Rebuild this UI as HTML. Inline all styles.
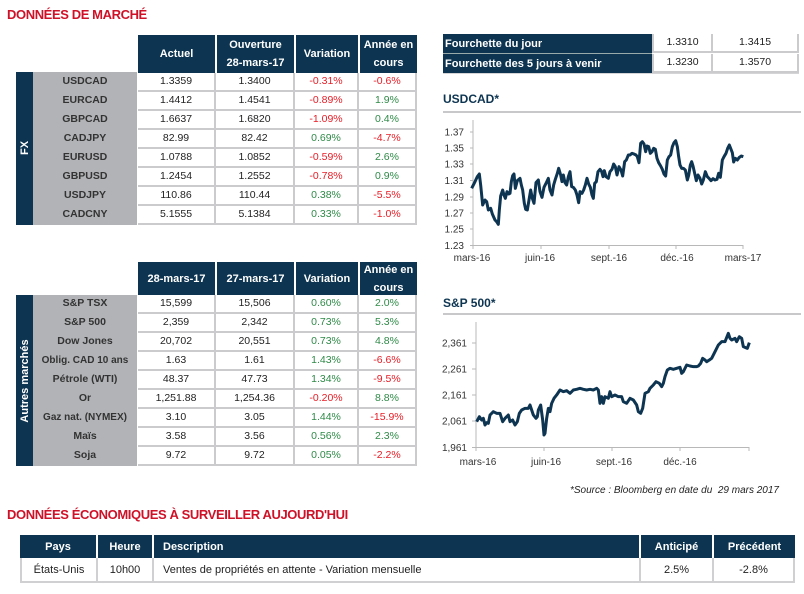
<!DOCTYPE html>
<html><head><meta charset="utf-8">
<style>
*{margin:0;padding:0;box-sizing:border-box}
body{width:804px;height:594px;background:#fff;position:relative;overflow:hidden;font-family:"Liberation Sans",Arial,sans-serif;color:#222}
.a{position:absolute}
.title{position:absolute;left:7px;color:#cf1128;font-weight:bold;font-size:13px;letter-spacing:-0.4px;white-space:nowrap}
.hd{position:absolute;background:#0d3451;color:#fff;font-weight:bold;font-size:11px;display:flex;align-items:center;justify-content:center;text-align:center;line-height:18px}
.row{position:absolute;left:138px;width:279px;height:19px;display:flex}
.row div{height:19px;border-right:2px solid #cbcbce;border-bottom:2px solid #cbcbce;text-align:center;font-size:10.5px;line-height:17px;color:#222}
.c1{width:78px}.c2{width:79px}.c3{width:64px}.c4{width:58px}
.r{color:#e81c25!important}.g{color:#2e8a47!important}
.lab{position:absolute;left:33px;width:104px;height:19px;text-align:center;font-weight:bold;font-size:10.5px;line-height:17px;color:#333;white-space:nowrap}
.side{position:absolute;left:16px;width:17px;background:#0d3451}
.gray{position:absolute;left:33px;width:104px;background:#b1b3b6}
.vt{position:absolute;color:#fff;font-weight:bold;font-size:11px;white-space:nowrap;transform:translate(-50%,-50%) rotate(-90deg)}
</style></head><body>

<div class="title" style="top:7px">DONNÉES DE MARCHÉ</div>

<div class="hd" style="left:138px;top:35px;width:77px;height:38px">Actuel</div>
<div class="hd" style="left:217px;top:35px;width:77px;height:38px">Ouverture<br>28-mars-17</div>
<div class="hd" style="left:296px;top:35px;width:62px;height:38px">Variation</div>
<div class="hd" style="left:360px;top:35px;width:57px;height:38px">Année en<br>cours</div>

<div class="side" style="top:72px;height:153px"></div>
<div class="gray" style="top:72px;height:153px"></div>
<div class="vt" style="left:24.5px;top:148px">FX</div>

<div class="lab" style="top:73px">USDCAD</div>
<div class="lab" style="top:92px">EURCAD</div>
<div class="lab" style="top:111px">GBPCAD</div>
<div class="lab" style="top:130px">CADJPY</div>
<div class="lab" style="top:149px">EURUSD</div>
<div class="lab" style="top:168px">GBPUSD</div>
<div class="lab" style="top:187px">USDJPY</div>
<div class="lab" style="top:206px">CADCNY</div>

<div class="row" style="top:73px"><div class="c1">1.3359</div><div class="c2">1.3400</div><div class="c3 r">-0.31%</div><div class="c4 r">-0.6%</div></div>
<div class="row" style="top:92px"><div class="c1">1.4412</div><div class="c2">1.4541</div><div class="c3 r">-0.89%</div><div class="c4 g">1.9%</div></div>
<div class="row" style="top:111px"><div class="c1">1.6637</div><div class="c2">1.6820</div><div class="c3 r">-1.09%</div><div class="c4 g">0.4%</div></div>
<div class="row" style="top:130px"><div class="c1">82.99</div><div class="c2">82.42</div><div class="c3 g">0.69%</div><div class="c4 r">-4.7%</div></div>
<div class="row" style="top:149px"><div class="c1">1.0788</div><div class="c2">1.0852</div><div class="c3 r">-0.59%</div><div class="c4 g">2.6%</div></div>
<div class="row" style="top:168px"><div class="c1">1.2454</div><div class="c2">1.2552</div><div class="c3 r">-0.78%</div><div class="c4 g">0.9%</div></div>
<div class="row" style="top:187px"><div class="c1">110.86</div><div class="c2">110.44</div><div class="c3 g">0.38%</div><div class="c4 r">-5.5%</div></div>
<div class="row" style="top:206px"><div class="c1">5.1555</div><div class="c2">5.1384</div><div class="c3 g">0.33%</div><div class="c4 r">-1.0%</div></div>

<div class="hd" style="left:138px;top:262px;width:77px;height:33px">28-mars-17</div>
<div class="hd" style="left:217px;top:262px;width:77px;height:33px">27-mars-17</div>
<div class="hd" style="left:296px;top:262px;width:62px;height:33px">Variation</div>
<div class="hd" style="left:360px;top:262px;width:57px;height:33px">Année en<br>cours</div>

<div class="side" style="top:295px;height:171px"></div>
<div class="gray" style="top:295px;height:171px"></div>
<div class="vt" style="left:24.5px;top:381px">Autres marchés</div>

<div class="lab" style="top:295px">S&amp;P TSX</div>
<div class="lab" style="top:314px">S&amp;P 500</div>
<div class="lab" style="top:333px">Dow Jones</div>
<div class="lab" style="top:352px;font-size:10px">Oblig. CAD 10 ans</div>
<div class="lab" style="top:371px">Pétrole (WTI)</div>
<div class="lab" style="top:390px">Or</div>
<div class="lab" style="top:409px;font-size:10px">Gaz nat. (NYMEX)</div>
<div class="lab" style="top:428px">Maïs</div>
<div class="lab" style="top:447px">Soja</div>

<div class="row" style="top:295px"><div class="c1">15,599</div><div class="c2">15,506</div><div class="c3 g">0.60%</div><div class="c4 g">2.0%</div></div>
<div class="row" style="top:314px"><div class="c1">2,359</div><div class="c2">2,342</div><div class="c3 g">0.73%</div><div class="c4 g">5.3%</div></div>
<div class="row" style="top:333px"><div class="c1">20,702</div><div class="c2">20,551</div><div class="c3 g">0.73%</div><div class="c4 g">4.8%</div></div>
<div class="row" style="top:352px"><div class="c1">1.63</div><div class="c2">1.61</div><div class="c3 g">1.43%</div><div class="c4 r">-6.6%</div></div>
<div class="row" style="top:371px"><div class="c1">48.37</div><div class="c2">47.73</div><div class="c3 g">1.34%</div><div class="c4 r">-9.5%</div></div>
<div class="row" style="top:390px"><div class="c1">1,251.88</div><div class="c2">1,254.36</div><div class="c3 r">-0.20%</div><div class="c4 g">8.8%</div></div>
<div class="row" style="top:409px"><div class="c1">3.10</div><div class="c2">3.05</div><div class="c3 g">1.44%</div><div class="c4 r">-15.9%</div></div>
<div class="row" style="top:428px"><div class="c1">3.58</div><div class="c2">3.56</div><div class="c3 g">0.56%</div><div class="c4 g">2.3%</div></div>
<div class="row" style="top:447px"><div class="c1">9.72</div><div class="c2">9.72</div><div class="c3 g">0.05%</div><div class="c4 r">-2.2%</div></div>

<div class="a" style="left:443px;top:34px;width:356px;height:40px;background:#fff;border-bottom:2px solid #d4d4d6"></div>
<div class="hd" style="left:443px;top:34px;width:209px;height:19px;justify-content:flex-start;padding-left:2px">Fourchette du jour</div>
<div class="hd" style="left:443px;top:54px;width:209px;height:19px;justify-content:flex-start;padding-left:2px">Fourchette des 5 jours à venir</div>
<div class="a" style="left:443px;top:53px;width:209px;height:1px;background:#9aa"></div>
<div class="row" style="left:652px;top:34px;width:147px"><div style="width:61px;border-left:2px solid #cbcbce">1.3310</div><div style="width:86px">1.3415</div></div>
<div class="row" style="left:652px;top:54px;width:147px"><div style="width:61px;border-left:2px solid #cbcbce">1.3230</div><div style="width:86px">1.3570</div></div>

<div class="a" style="left:443px;top:92px;font-weight:bold;font-size:12px;color:#0d3451">USDCAD*</div>
<div class="a" style="left:443px;top:111px;width:358px;height:2px;background:#c8c8ca"></div>
<div class="a" style="left:443px;top:296px;font-weight:bold;font-size:12px;color:#0d3451">S&amp;P 500*</div>
<div class="a" style="left:443px;top:313px;width:358px;height:2px;background:#c8c8ca"></div>

<svg class="a" style="left:0;top:0" width="804" height="594" viewBox="0 0 804 594">
 <g font-family="Liberation Sans, Arial, sans-serif" font-size="10" fill="#333">
  <line x1="473" y1="120" x2="473" y2="245.5" stroke="#b8b8b8" stroke-width="1"/>
  <line x1="473" y1="245.5" x2="743" y2="245.5" stroke="#b8b8b8" stroke-width="1"/>
  <g stroke="#b8b8b8" stroke-width="1">
   <line x1="470" y1="132" x2="473" y2="132"/><line x1="470" y1="148" x2="473" y2="148"/>
   <line x1="470" y1="164" x2="473" y2="164"/><line x1="470" y1="180.5" x2="473" y2="180.5"/>
   <line x1="470" y1="197" x2="473" y2="197"/><line x1="470" y1="213" x2="473" y2="213"/>
   <line x1="470" y1="229" x2="473" y2="229"/><line x1="470" y1="245.5" x2="473" y2="245.5"/>
   <line x1="473" y1="245" x2="473" y2="249"/><line x1="541" y1="245" x2="541" y2="249"/>
   <line x1="609" y1="245" x2="609" y2="249"/><line x1="676" y1="245" x2="676" y2="249"/>
   <line x1="743" y1="245" x2="743" y2="249"/>
  </g>
  <g text-anchor="end">
   <text x="464" y="135.5">1.37</text><text x="464" y="151.5">1.35</text>
   <text x="464" y="167.5">1.33</text><text x="464" y="184">1.31</text>
   <text x="464" y="200.5">1.29</text><text x="464" y="216.5">1.27</text>
   <text x="464" y="232.5">1.25</text><text x="464" y="249">1.23</text>
  </g>
  <g text-anchor="middle">
   <text x="472" y="261">mars-16</text><text x="540" y="261">juin-16</text>
   <text x="609" y="261">sept.-16</text><text x="677" y="261">déc.-16</text>
   <text x="743" y="261">mars-17</text>
  </g>
  <g transform="translate(430 110) scale(0.33333)">
   <polyline fill="none" stroke="#0d3451" stroke-width="9" stroke-linejoin="round" points="125,235 135,215 142,200 148,192 152,225 158,285 165,270 170,275 175,300 182,295 187,312 195,330 200,335 205,343 208,300 212,258 218,240 222,255 226,265 231,245 236,252 240,250 244,215 248,197 252,192 256,235 262,212 270,205 274,225 278,240 283,280 287,298 292,300 297,270 302,240 307,265 312,280 318,218 325,210 330,245 336,262 342,232 348,220 355,205 360,240 366,255 371,225 376,208 382,190 386,175 392,195 396,215 400,195 405,218 410,225 415,200 420,185 425,230 430,232 436,240 441,255 446,278 450,245 456,250 461,240 466,225 471,205 476,222 481,232 486,255 490,265 494,220 499,215 504,185 510,178 515,185 519,200 523,182 528,200 535,205 540,185 546,178 551,162 556,170 561,195 567,170 573,180 578,198 584,155 589,150 595,135 600,135 606,130 612,132 618,135 622,140 627,158 632,100 637,95 642,102 647,125 651,108 656,110 661,130 666,125 671,115 676,118 681,145 686,158 692,168 697,178 702,192 707,198 712,150 717,140 722,135 727,110 732,98 737,92 742,110 746,140 750,165 755,175 760,175 766,180 772,210 776,196 781,165 785,155 789,168 794,190 799,212 804,195 810,205 815,222 820,210 826,185 832,200 837,205 843,212 849,206 855,210 861,208 866,190 871,202 877,150 882,140 888,130 893,115 898,105 903,118 907,128 911,156 916,145 922,150 928,142 934,138 940,140"/>
  </g>

  <line x1="476" y1="322" x2="476" y2="447.5" stroke="#b8b8b8" stroke-width="1"/>
  <line x1="476" y1="447.5" x2="749" y2="447.5" stroke="#b8b8b8" stroke-width="1"/>
  <g stroke="#b8b8b8" stroke-width="1">
   <line x1="472" y1="343" x2="476" y2="343"/><line x1="472" y1="369" x2="476" y2="369"/>
   <line x1="472" y1="395" x2="476" y2="395"/><line x1="472" y1="421" x2="476" y2="421"/>
   <line x1="472" y1="447.5" x2="476" y2="447.5"/>
   <line x1="476" y1="447" x2="476" y2="451"/><line x1="544" y1="447" x2="544" y2="451"/>
   <line x1="612" y1="447" x2="612" y2="451"/><line x1="680" y1="447" x2="680" y2="451"/>
   <line x1="749" y1="447" x2="749" y2="451"/>
  </g>
  <g text-anchor="end">
   <text x="467" y="346.5">2,361</text><text x="467" y="372.5">2,261</text>
   <text x="467" y="398.5">2,161</text><text x="467" y="424.5">2,061</text>
   <text x="467" y="451">1,961</text>
  </g>
  <g text-anchor="middle">
   <text x="478" y="465">mars-16</text><text x="546" y="465">juin-16</text>
   <text x="614" y="465">sept.-16</text><text x="680" y="465">déc.-16</text>
  </g>
  <g transform="translate(430 290) scale(0.33333)">
   <polyline fill="none" stroke="#0d3451" stroke-width="9" stroke-linejoin="round" points="140,395 148,380 155,390 160,385 165,405 170,398 175,400 180,375 190,365 200,370 210,370 218,395 225,385 235,375 240,395 248,390 255,405 262,395 268,370 275,360 285,355 295,355 300,345 305,360 310,375 318,385 322,380 325,360 332,345 338,390 342,435 345,430 350,385 355,355 360,365 365,340 372,325 380,315 390,300 400,305 410,302 420,310 425,305 430,300 440,298 450,295 460,298 470,300 480,298 490,300 500,295 505,300 510,340 515,320 520,340 525,320 535,325 540,305 545,320 555,315 565,320 575,320 580,335 590,340 600,325 610,330 620,345 625,365 632,370 638,355 645,310 655,305 660,295 670,285 678,275 688,280 695,290 700,280 705,260 712,240 720,235 730,238 740,235 750,232 755,250 760,245 770,225 780,228 790,230 800,230 805,228 812,220 818,205 825,210 830,215 838,210 845,205 855,185 865,165 875,155 885,155 895,130 900,145 905,150 915,145 920,155 928,140 935,145 940,170 945,172 952,175 958,158"/>
  </g>
 </g>
</svg>

<div class="a" style="left:560px;top:485px;width:219px;text-align:right;font-style:italic;font-size:10px;color:#222;white-space:nowrap">*Source : Bloomberg en date du&nbsp; 29 mars 2017</div>

<div class="title" style="top:507px">DONNÉES ÉCONOMIQUES À SURVEILLER AUJOURD'HUI</div>

<div class="hd" style="left:20px;top:535px;width:76px;height:23px">Pays</div>
<div class="hd" style="left:98px;top:535px;width:54px;height:23px">Heure</div>
<div class="hd" style="left:154px;top:535px;width:485px;height:23px;justify-content:flex-start;padding-left:9px">Description</div>
<div class="hd" style="left:641px;top:535px;width:71px;height:23px">Anticipé</div>
<div class="hd" style="left:714px;top:535px;width:81px;height:23px">Précédent</div>
<div class="a" style="left:20px;top:558px;width:775px;height:25px;display:flex;font-size:11px;line-height:25px;color:#222;border-left:2px solid #d0d0d2">
 <div style="width:76px;text-align:center;border-right:2px solid #d0d0d2;border-bottom:2px solid #d0d0d2">États-Unis</div>
 <div style="width:56px;text-align:center;border-right:2px solid #d0d0d2;border-bottom:2px solid #d0d0d2">10h00</div>
 <div style="width:487px;padding-left:9px;border-right:2px solid #d0d0d2;border-bottom:2px solid #d0d0d2;white-space:nowrap">Ventes de propriétés en attente - Variation mensuelle</div>
 <div style="width:73px;text-align:center;border-right:2px solid #d0d0d2;border-bottom:2px solid #d0d0d2">2.5%</div>
 <div style="width:81px;text-align:center;border-right:2px solid #d0d0d2;border-bottom:2px solid #d0d0d2">-2.8%</div>
</div>

</body></html>
